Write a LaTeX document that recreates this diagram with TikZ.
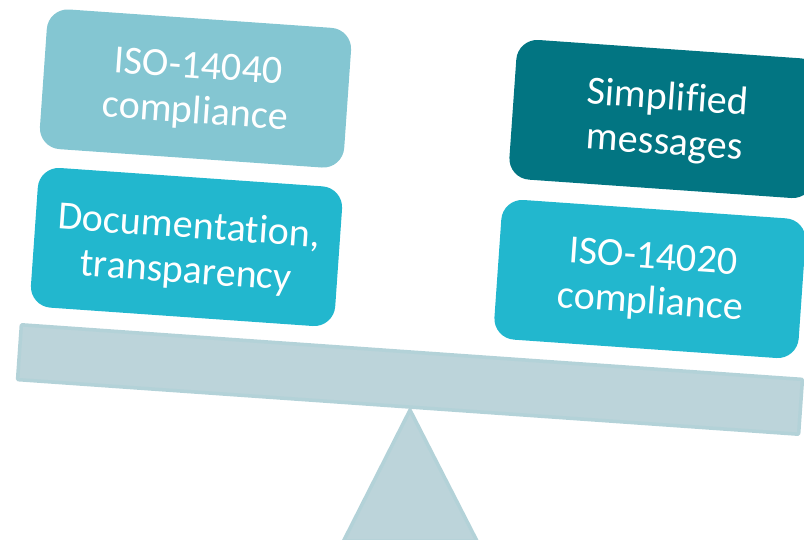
\documentclass[tikz,border=0pt]{standalone}
\usepackage{fontspec}
\setmainfont{Carlito}[Ligatures={NoCommon}]
\definecolor{boxlight}{HTML}{84C6D2}
\definecolor{boxmid}{HTML}{22B7CE}
\definecolor{boxdark}{HTML}{027582}
\definecolor{beamfill}{HTML}{BCD4DA}
\definecolor{beamline}{HTML}{B3D2D8}
\tikzset{
  cardbox/.style={rectangle,rounded corners=21pt,minimum width=305pt,minimum height=140pt,inner sep=0pt,rotate=-4},
  cardtext/.style={inner sep=0pt,rotate=-4,text=white,align=center,font=\fontsize{40}{45}\selectfont},
  beambox/.style={rectangle,draw=beamline,fill=beamfill,line width=3.5pt,rounded corners=1pt,
    minimum width=783pt,minimum height=55pt,inner sep=0pt,rotate=-4},
  pivot/.style={draw=beamline,fill=beamfill,line width=3.5pt,line join=round}
}
\begin{document}
\begin{tikzpicture}[x=1pt,y=-1pt]
\path[use as bounding box] (0,0) rectangle (804,539);
\clip (0,0) rectangle (804,539);
\node[cardbox,fill=boxlight] (a) at (195.5,88.5) {};
\node[cardbox,fill=boxmid] (b) at (186.5,247) {};
\node[cardbox,fill=boxdark] (c) at (665,119) {};
\node[cardbox,fill=boxmid] (d) at (650,279) {};
\node[cardtext] (ta) at (196.5,91) {ISO-14040\\compliance};
\node[cardtext] (tb) at (187.5,250) {Documentation,\\transparency};
\node[cardtext] (tc) at (666,121.5) {Simplified\\messages};
\node[cardtext] (td) at (651.5,281.5) {ISO-14020\\compliance};
\node[beambox] (beam) at (410,379.5) {};
\coordinate (apex) at (410,410);
\coordinate (baseL) at (343.5,541);
\coordinate (baseR) at (477,541);
\draw[pivot] (apex) -- (baseL) -- (baseR) -- cycle;
\end{tikzpicture}
\end{document}
